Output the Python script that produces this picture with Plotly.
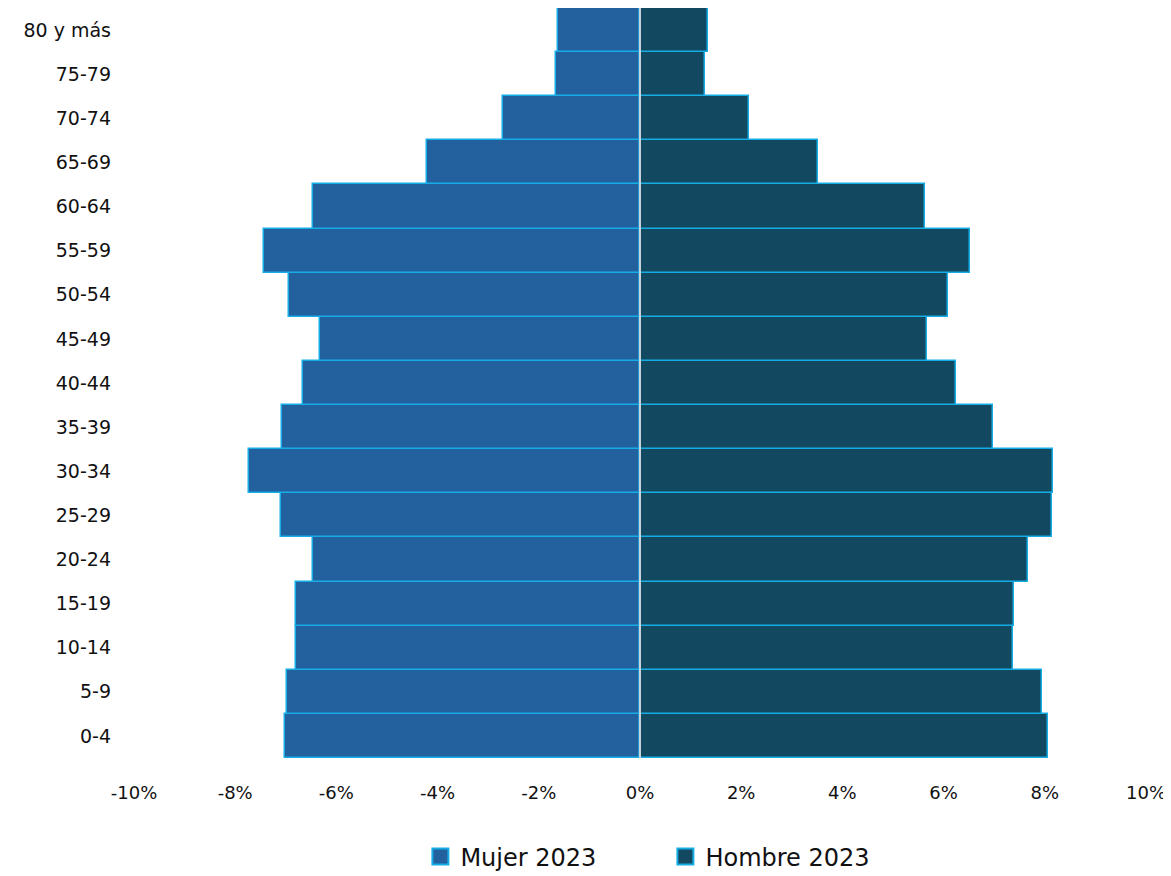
import plotly.graph_objects as go

groups = ["0-4", "5-9", "10-14", "15-19", "20-24", "25-29", "30-34", "35-39",
          "40-44", "45-49", "50-54", "55-59", "60-64", "65-69", "70-74", "75-79", "80 y más"]
mujer = [7.02, 6.98, 6.79, 6.79, 6.47, 7.10, 7.73, 7.08,
         6.67, 6.33, 6.94, 7.44, 6.47, 4.20, 2.70, 1.66, 1.62]
hombre = [8.07, 7.95, 7.38, 7.40, 7.67, 8.15, 8.17, 6.98,
          6.25, 5.68, 6.09, 6.53, 5.64, 3.51, 2.15, 1.28, 1.34]
tick_vals = [-10, -8, -6, -4, -2, 0, 2, 4, 6, 8, 10]
tick_text = ["-10%", "-8%", "-6%", "-4%", "-2%", "0%", "2%", "4%", "6%", "8%", "10%"]

border = "#16ade6"
c_mujer = "#23609e"
c_hombre = "#124960"
fig = go.Figure()
fig.add_trace(go.Bar(y=groups, x=[-v for v in mujer], orientation="h", name="Mujer 2023",
                     showlegend=False,
                     marker=dict(color=c_mujer, line=dict(color=border, width=1.5))))
fig.add_trace(go.Bar(y=groups, x=hombre, orientation="h", name="Hombre 2023",
                     showlegend=False,
                     marker=dict(color=c_hombre, line=dict(color=border, width=1.5))))
# legend entries with larger square symbols
for name, col in [("Mujer 2023", c_mujer), ("Hombre 2023", c_hombre)]:
    fig.add_trace(go.Scatter(x=[None], y=[None], mode="markers", name=name,
                             marker=dict(symbol="square", size=17, color=col,
                                         line=dict(color=border, width=2))))

fig.add_shape(type="line", xref="x", yref="paper", x0=0, x1=0, y0=0, y1=1,
              line=dict(color="#c9d1d9", width=2), layer="above")

fig.update_layout(
    width=1163, height=868,
    barmode="relative", bargap=0,
    paper_bgcolor="white", plot_bgcolor="white",
    margin=dict(l=126, r=25, t=0, b=118, autoexpand=False),
    font=dict(family="DejaVu Sans, sans-serif", size=18, color="#111"),
    showlegend=True,
    legend=dict(orientation="h", x=0.283, xanchor="left", y=-0.102, yanchor="top",
                font=dict(size=24), entrywidth=200, entrywidthmode="pixels",
                itemwidth=30),
    xaxis=dict(range=[-10, 10], tickvals=tick_vals, ticktext=tick_text,
               showgrid=False, zeroline=False, showline=False, ticklen=0,
               ticklabelstandoff=22),
    yaxis=dict(showgrid=False, zeroline=False, showline=False, ticks="", ticklen=0,
               categoryorder="array", categoryarray=groups, ticklabelstandoff=22,
               tickfont=dict(size=19)),
)
fig.write_html("out.html")
